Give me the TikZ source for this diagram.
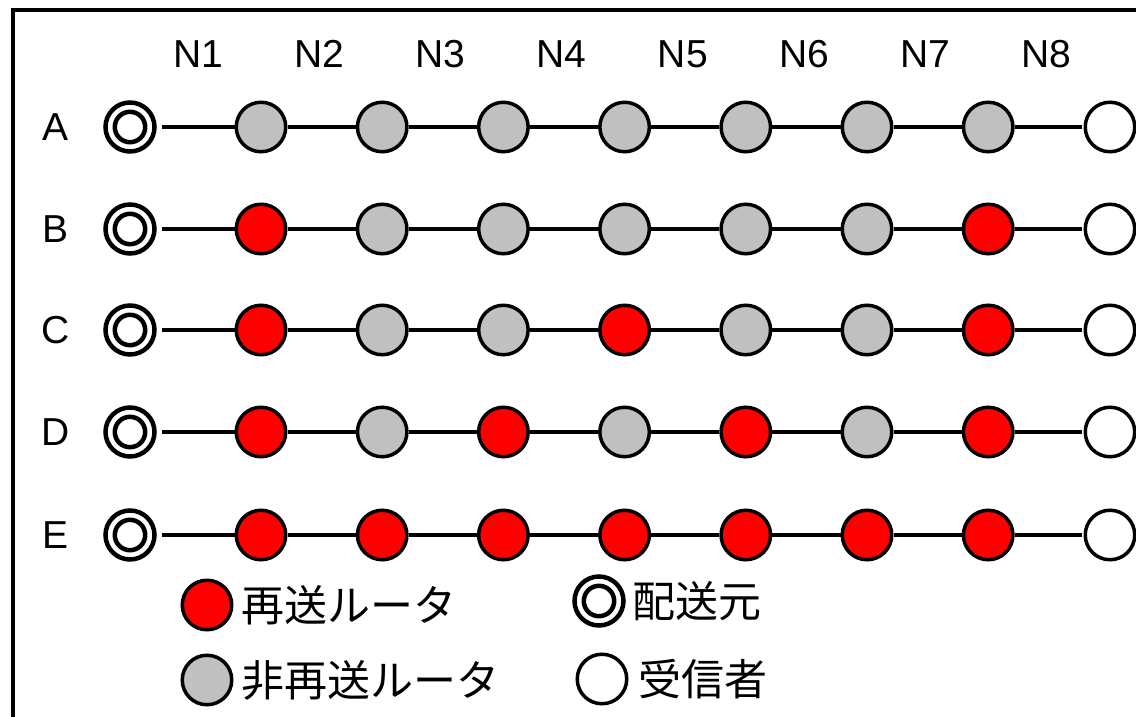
\documentclass[tikz,border=0pt]{standalone}
\usepackage{fontspec}
\setmainfont{Liberation Sans}
\newfontfamily\jp{Noto Sans CJK JP}
\definecolor{rgray}{RGB}{192,192,192}
\begin{document}
\begin{tikzpicture}[x=1pt,y=-1pt,
  router/.style={circle,draw=black,line width=3.5pt,minimum size=49.5pt,inner sep=0pt},
  recv/.style={router,fill=white},
  src/.style={circle,draw=black,fill=white,line width=4.5pt,minimum size=49pt,inner sep=0pt,
    path picture={\draw[line width=4.5pt] (path picture bounding box.center) circle[radius=15.2pt];}},
  link/.style={line width=3.2pt},
  lbl/.style={font=\fontsize{39}{46}\selectfont,inner sep=0pt},
  jlbl/.style={font=\jp\fontsize{43}{50}\selectfont,anchor=west,inner sep=0pt}]
\useasboundingbox (0,0) rectangle (1136,717);
\fill[white] (0,0) rectangle (1136,717);
\draw[line width=4pt] (13,717) -- (13,10) -- (1136,10);
% column labels
\foreach \i in {1,...,8} {
  \node[lbl] (N\i) at ({198+121.2*(\i-1)},54) {N\i};
}
% rows
\foreach \r/\y/\list in {
  A/127/{rgray,rgray,rgray,rgray,rgray,rgray,rgray},
  B/229/{red,rgray,rgray,rgray,rgray,rgray,red},
  C/330/{red,rgray,rgray,red,rgray,rgray,red},
  D/432/{red,rgray,red,rgray,red,rgray,red},
  E/535/{red,red,red,red,red,red,red}} {
  \node[lbl] (L\r) at (56,\y) {\r};
  \node[src] (\r0) at (130,\y) {};
  \foreach \c [count=\i] in \list {
    \node[router,fill=\c] (\r\i) at ({261+121.2*(\i-1)},\y) {};
  }
  \node[recv] (\r8) at (1110,\y) {};
  \draw[link,shorten <=5pt] (\r0) -- (\r1);
  \foreach \i [evaluate=\i as \j using int(\i+1)] in {1,...,6} {
    \draw[link] (\r\i) -- (\r\j);
  }
  \draw[link,shorten >=2pt] (\r7) -- (\r8);
}
% legend
\node[router,fill=red] (lr) at (207,605) {};
\node[jlbl] (lrt) at (241,605) {再送ルータ};
\node[router,fill=rgray] (lg) at (207,680) {};
\node[jlbl] (lgt) at (241,680) {非再送ルータ};
\node[src] (ls) at (599,601) {};
\node[jlbl] (lst) at (632,601) {配送元};
\node[recv] (lw) at (602,679) {};
\node[jlbl] (lwt) at (638,679) {受信者};
\end{tikzpicture}
\end{document}
